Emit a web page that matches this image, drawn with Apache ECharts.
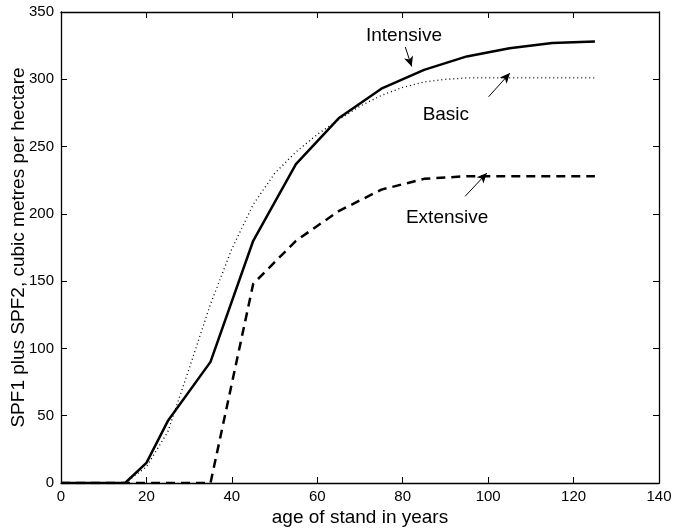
<!DOCTYPE html>
<html>
<head>
<meta charset="utf-8">
<script src="https://cdn.jsdelivr.net/npm/echarts@6/dist/echarts.min.js"></script>
<style>
    html, body { margin: 0; padding: 0; background: #fff; }
    #chart { width: 673px; height: 529px; }
</style>
</head>
<body>
<div id="chart"></div>
<script>
    // stand age (years) and volume per hectare for each management regime
    var intensive = [[0, 0], [5, 0], [10, 0], [15, 0], [20, 15], [25, 46], [35, 90], [45, 180], [55, 237],
        [65, 271], [75, 293], [85, 307], [95, 317], [105, 323], [115, 327], [125, 328]];
    var basic = [[0, 0], [5, 0], [10, 0], [15, 0], [20, 12], [25, 38], [30, 85], [35, 133], [40, 174],
        [45, 207], [50, 230], [55, 246], [60, 259], [65, 270], [70, 280], [75, 288], [80, 294],
        [85, 298], [90, 300], [95, 301], [105, 301], [115, 301], [125, 301]];
    var extensive = [[0, 0], [5, 0], [15, 0], [25, 0], [35, 0], [45, 148], [55, 180], [65, 202],
        [75, 218], [85, 226], [95, 228], [105, 228], [115, 228], [125, 228]];

    // annotation text anchors and arrows [from, to], data coordinates
    var labels = [
        {name: 'Intensive', at: [80.3, 332], arrow: [[80.6, 324], [82.1, 309.5]]},
        {name: 'Basic', at: [90.1, 273.6], arrow: [[100.1, 287], [105.1, 304.6]]},
        {name: 'Extensive', at: [90.4, 197], arrow: [[94.6, 213], [99.7, 230.3]]}
    ];

    var fontName = 'Liberation Sans, Arial, sans-serif';
    var chart = echarts.init(document.getElementById('chart'));

    var axisLine = {show: true, onZero: false, lineStyle: {color: '#000', width: 1.3}};
    var tick = {show: true, inside: true, length: 6, lineStyle: {color: '#000', width: 1}};

    chart.setOption({
        animation: false,
        grid: {left: 61, right: 14, top: 12, bottom: 46, containLabel: false, outerBoundsMode: 'none'},
        xAxis: [
            {
                type: 'value', min: 0, max: 140, interval: 20, position: 'bottom',
                name: 'age of stand in years', nameLocation: 'middle', nameGap: 25,
                nameMoveOverlap: false,
                nameTextStyle: {fontFamily: fontName, fontSize: 19, color: '#000'},
                axisLine: axisLine, axisTick: tick, splitLine: {show: false},
                axisLabel: {fontFamily: fontName, fontSize: 15, color: '#000', margin: 6}
            },
            {
                type: 'value', min: 0, max: 140, interval: 20, position: 'top',
                axisLine: axisLine, axisTick: tick, splitLine: {show: false},
                axisLabel: {show: false}
            }
        ],
        yAxis: [
            {
                type: 'value', min: 0, max: 350, interval: 50, position: 'left',
                name: 'SPF1 plus SPF2, cubic metres per hectare', nameLocation: 'middle', nameGap: 33,
                nameMoveOverlap: false,
                nameTextStyle: {fontFamily: fontName, fontSize: 19, color: '#000'},
                axisLine: axisLine, axisTick: tick, splitLine: {show: false},
                axisLabel: {fontFamily: fontName, fontSize: 15, color: '#000', margin: 7}
            },
            {
                type: 'value', min: 0, max: 350, interval: 50, position: 'right',
                axisLine: axisLine, axisTick: tick, splitLine: {show: false},
                axisLabel: {show: false}
            }
        ],
        series: [
            {
                name: 'Basic', type: 'line', data: basic, symbol: 'none',
                lineStyle: {color: '#000', width: 1.3, type: [1, 3]}
            },
            {
                name: 'Extensive', type: 'line', data: extensive, symbol: 'none',
                lineStyle: {color: '#000', width: 2.5, type: [9, 6]}
            },
            {
                name: 'Intensive', type: 'line', data: intensive, symbol: 'none',
                lineStyle: {color: '#000', width: 2.5},
                markLine: {
                    silent: true,
                    symbol: ['none', 'arrow'],
                    symbolSize: [7, 10],
                    label: {show: false},
                    lineStyle: {color: '#000', width: 1, type: 'solid'},
                    data: labels.map(function (l) {
                        return [{coord: l.arrow[0]}, {coord: l.arrow[1]}];
                    })
                }
            },
            {
                name: 'labels', type: 'scatter', symbolSize: 0, silent: true,
                itemStyle: {opacity: 1},
                data: labels.map(function (l) {
                    return {value: l.at, name: l.name};
                }),
                label: {
                    show: true, position: [0, 0], align: 'center', verticalAlign: 'middle',
                    formatter: '{b}', fontFamily: fontName, fontSize: 19, color: '#000', opacity: 1
                }
            }
        ]
    });
</script>
</body>
</html>
